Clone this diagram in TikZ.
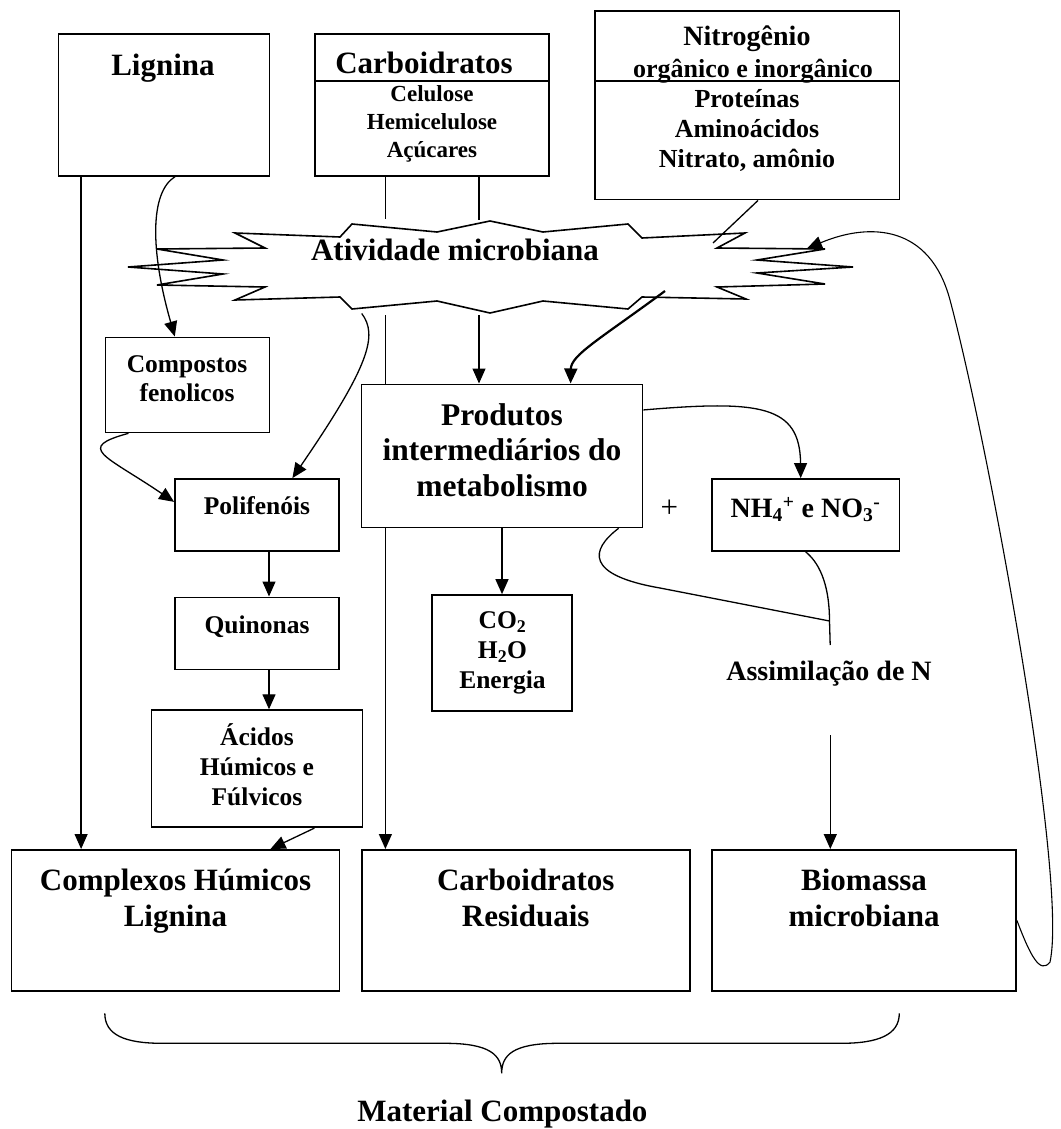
\documentclass[tikz,border=0pt]{standalone}
\usepackage{fontspec}
\setmainfont{Liberation Serif}
\usetikzlibrary{arrows.meta}

\tikzset{every picture/.style={line width=1.3pt}}
\tikzset{
  caixa/.style={draw, line width=1.8pt, inner sep=0pt},
  rotulo/.style={anchor=base, inner sep=0pt, align=flush center, text width=340pt},
  seta/.style={-{Triangle[length=15pt,width=13pt]}},
  explosao/.style={line width=1.6pt},
  g31/.style={font=\fontsize{31}{36.7}\selectfont\bfseries},
  m28/.style={font=\fontsize{28}{32}\selectfont\bfseries},
  p26/.style={font=\fontsize{26}{30}\selectfont\bfseries},
  p25/.style={font=\fontsize{25.5}{30}\selectfont\bfseries},
  p23/.style={font=\fontsize{23}{28}\selectfont\bfseries}
}

\begin{document}
\begin{tikzpicture}[x=1pt,y=1pt,yscale=-1]
\useasboundingbox (0,0) rectangle (1060,1129);

%Shape: Rectangle
\node[caixa, minimum width=211pt, minimum height=142pt] (lignina) at (164,104.8) {};
%Shape: Rectangle
\node[caixa, minimum width=234pt, minimum height=142pt] (carbo) at (432,104.8) {};
%Shape: Rectangle
\node[caixa, minimum width=304.5pt, minimum height=188.7pt] (nitro) at (747.3,105.2) {};
%Shape: Rectangle
\node[caixa, minimum width=164pt, minimum height=95pt] (compostos) at (187.5,384.9) {};
%Shape: Rectangle
\node[caixa, minimum width=164pt, minimum height=72pt] (polif) at (257,515) {};
%Shape: Rectangle
\node[caixa, minimum width=164pt, minimum height=72pt] (quinonas) at (257,633.4) {};
%Shape: Rectangle
\node[caixa, minimum width=211pt, minimum height=117pt] (acidos) at (257,768.7) {};
%Shape: Rectangle
\node[caixa, minimum width=281pt, minimum height=143pt] (produtos) at (502,455.9) {};
%Shape: Rectangle
\node[caixa, minimum width=140.6pt, minimum height=115.7pt] (co2) at (502,652.9) {};
%Shape: Rectangle
\node[caixa, minimum width=187.6pt, minimum height=72pt] (nh) at (805.7,515) {};
%Shape: Rectangle
\node[caixa, minimum width=328pt, minimum height=141pt] (complexos) at (175.5,920.4) {};
%Shape: Rectangle
\node[caixa, minimum width=328pt, minimum height=141pt] (residuais) at (525.7,920.4) {};
%Shape: Rectangle
\node[caixa, minimum width=304pt, minimum height=141pt] (biomassa) at (864,920.4) {};

%Straight Lines
\coordinate (div) at (0,81);
\draw (carbo.west |- div) -- (carbo.east |- div);
\draw (nitro.west |- div) -- (nitro.east |- div);

%Shape: Explosion
\draw[explosao] (235,233) -- (340,237) -- (352,224) -- (437,232) -- (490,221) -- (543,232)
  -- (628,224) -- (642,238) -- (745,233) -- (717,248) -- (825,249) -- (757,260) -- (853,267)
  -- (757,273) -- (825,284) -- (717,287) -- (746,299) -- (642,297) -- (628,309) -- (543,301)
  -- (490,313) -- (437,301) -- (352,309) -- (340,297) -- (235,300) -- (265,287) -- (157,285)
  -- (223,274) -- (128,267) -- (223,260) -- (157,249) -- (265,248) -- cycle;

\coordinate (ativ-n1) at (385.4,219);
\coordinate (ativ-s1) at (385.4,315);
\coordinate (ativ-n2) at (479,220);
\coordinate (ativ-s2) at (479,315);
\coordinate (ativ-ne) at (713,243);
\coordinate (ativ-se) at (665,291);
\coordinate (ativ-sw) at (361.7,313.5);
\coordinate (ativ-e) at (807,248.5);
\coordinate (juncao) at (829.5,621);
\coordinate (assim-n) at (830.2,645);
\coordinate (assim-s) at (830.3,735);
\coordinate (lig-esq) at ([xshift=23.5pt]lignina.south west);

%Straight Lines
\draw[seta] (lig-esq) -- (lig-esq |- complexos.north);
%Curve Lines
\draw[seta] ([xshift=11pt]lignina.south) .. controls (150,192) and (150,250) .. ([xshift=-12.7pt]compostos.north);
%Straight Lines
\draw (carbo.south -| ativ-n1) -- (ativ-n1);
\draw (carbo.south -| ativ-n2) -- (ativ-n2);
\draw (ativ-s1) -- (ativ-s1 |- produtos.north);
\draw[seta] (ativ-s1 |- produtos.south) -- (ativ-s1 |- residuais.north);
\draw[seta] (ativ-s2) -- (ativ-s2 |- produtos.north);
\draw ([xshift=10.7pt]nitro.south) -- (ativ-ne);
%Curve Lines
\draw[seta, line width=2.2pt] (ativ-se) .. controls (600,339) and (571,355) .. ([xshift=68.6pt]produtos.north);
\draw[seta] (ativ-sw) .. controls (378,335) and (370,365) .. ([xshift=35.4pt]polif.north);
\draw[seta] ([xshift=-59pt]compostos.south) .. controls (75,448) and (105,455) .. (polif.171.6);
%Straight Lines
\draw[seta] ([xshift=12pt]polif.south) -- ([xshift=12pt]quinonas.north);
\draw[seta] ([xshift=12pt]quinonas.south) -- ([xshift=12pt]acidos.north);
\draw[seta] ([xshift=57.4pt]acidos.south) -- ([xshift=95pt]complexos.north);
\draw[seta] (produtos.south) -- (co2.north);
%Curve Lines
\draw[seta] (produtos.18) .. controls (760,400) and (800,405) .. ([xshift=-5pt]nh.north);
\draw ([xshift=116.6pt]produtos.south) .. controls (590,550) and (585,575) .. (660,588) -- (juncao);
\draw (nh.south) .. controls (822,565) and (829.5,590) .. (juncao) -- (assim-n);
%Straight Lines
\draw[seta] (assim-s) -- (assim-s |- biomassa.north);
%Curve Lines
\draw[seta, line width=1.1pt] (biomassa.east) .. controls (1030,955) and (1040,975) .. (1050,962)
  .. controls (1068,880) and (990,450) .. (950,300) .. controls (930,225) and (870,222) .. (ativ-e);

%Curve Lines
\coordinate (chave-e) at (104.8,1013.3);
\coordinate (chave-d) at (899.3,1013.3);
\coordinate (chave-m) at (501.7,1073.3);
\draw (chave-e) .. controls (104.8,1035) and (125,1043.3) .. (162,1043.3) -- (445,1043.3)
  .. controls (490,1043.3) and (501.7,1055) .. (chave-m)
  .. controls (501.7,1055) and (513,1043.3) .. (558,1043.3) -- (841,1043.3)
  .. controls (878,1043.3) and (899.3,1035) .. (chave-d);

% Text Node
\node[rotulo, g31] (t-lignina) at (163,76) {Lignina};
% Text Node
\node[rotulo, g31] (t-carbo) at (424,73.7) {Carboidratos};
% Text Node
\node[rotulo, p23] (t-carbo-lista) at (432,101.4) {Celulose\\Hemicelulose\\Açúcares};
% Text Node
\node[rotulo, m28] (t-nitro) at (747,45.6) {Nitrogênio};
% Text Node
\node[rotulo, p26] (t-nitro-sub) at (753,77.8) {orgânico e inorgânico};
% Text Node
\node[rotulo, p26] (t-nitro-lista) at (747,108) {Proteínas\\Aminoácidos\\Nitrato, amônio};
% Text Node
\node[rotulo, g31] (t-ativ) at (455,260) {Atividade microbiana};
% Text Node
\node[rotulo, font=\fontsize{25.5}{28.7}\selectfont\bfseries] (t-compostos) at (187,372.7) {Compostos\\fenolicos};
% Text Node
\node[rotulo, p25] (t-polif) at (257,514.7) {Polifenóis};
% Text Node
\node[rotulo, p25] (t-quinonas) at (257,633) {Quinonas};
% Text Node
\node[rotulo, p25] (t-acidos) at (257,745) {Ácidos\\Húmicos e\\Fúlvicos};
% Text Node
\node[rotulo, font=\fontsize{31.5}{35.5}\selectfont\bfseries] (t-produtos) at (502,425) {Produtos\\intermediários do\\metabolismo};
% Text Node
\node[rotulo, p25] (t-co2) at (502.5,628.3) {CO\textsubscript{2}\\H\textsubscript{2}O\\Energia};
% Text Node
\node[rotulo, m28] (t-nh) at (805.5,517.4) {NH\textsubscript{4}\textsuperscript{+} e NO\textsubscript{3}\textsuperscript{-}};
% Text Node
\node[inner sep=0pt, font=\fontsize{31}{34}\selectfont] (mais) at (669.3,508.9) {+};
% Text Node
\node[rotulo, m28] (t-assim) at (829,680.3) {Assimilação de N};
% Text Node
\node[rotulo, g31] (t-complexos) at (175.5,890) {Complexos Húmicos\\Lignina};
% Text Node
\node[rotulo, g31] (t-residuais) at (525.7,890) {Carboidratos\\Residuais};
% Text Node
\node[rotulo, g31] (t-biomassa) at (864,890) {Biomassa\\microbiana};
% Text Node
\node[rotulo, g31] (t-material) at (502.4,1121) {Material Compostado};

\end{tikzpicture}
\end{document}
